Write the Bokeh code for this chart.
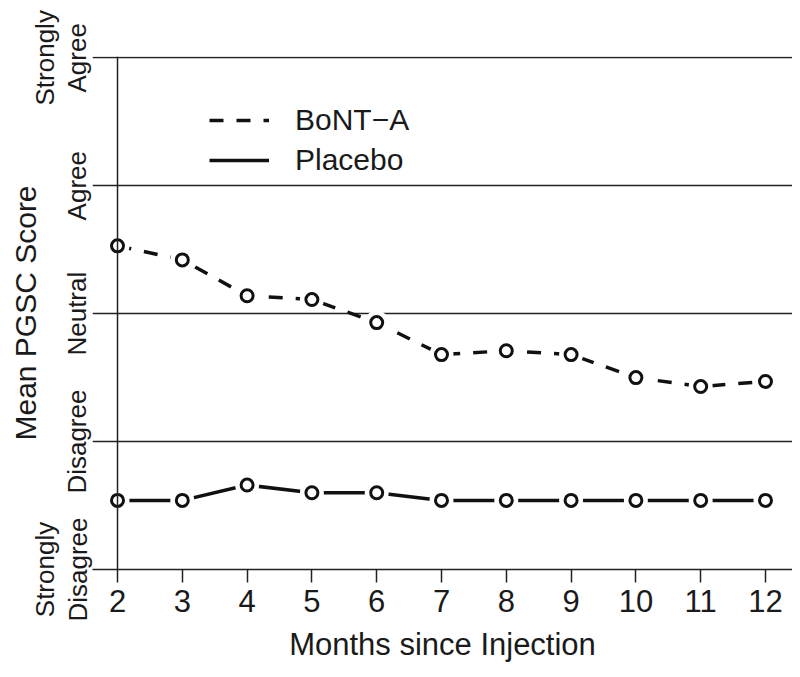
import math
from bokeh.plotting import figure
from bokeh.models import Range1d, FixedTicker, Span, Legend, LegendItem
from bokeh.embed import file_html
from bokeh.resources import INLINE

months = [2, 3, 4, 5, 6, 7, 8, 9, 10, 11, 12]
bont_a = [3.53, 3.42, 3.14, 3.11, 2.93, 2.68, 2.71, 2.68, 2.50, 2.43, 2.47]
placebo = [1.54, 1.54, 1.66, 1.60, 1.60, 1.54, 1.54, 1.54, 1.54, 1.54, 1.54]
score_ticks = [1, 2, 3, 4, 5]
score_labels = ["Strongly\nDisagree", "Disagree", "Neutral", "Agree", "Strongly\nAgree"]
x_ticks = [2, 3, 4, 5, 6, 7, 8, 9, 10, 11, 12]

FONT = "Liberation Sans"

p = figure(width=792, height=677, output_backend="svg", toolbar_location=None,
           x_range=Range1d(1.614, 12.417), y_range=Range1d(1.0, 5.01),
           min_border_left=92, min_border_right=0, min_border_top=56, min_border_bottom=108)
p.outline_line_color = None
p.background_fill_color = "white"
p.border_fill_color = "white"

# x axis
xa = p.xaxis[0]
xa.ticker = FixedTicker(ticks=x_ticks)
xa.axis_label = "Months since Injection"
xa.axis_label_text_font = FONT
xa.axis_label_text_font_size = "31px"
xa.axis_label_text_font_style = "normal"
xa.axis_label_text_color = "#1a1a1a"
xa.axis_label_standoff = 12
xa.major_label_text_font = FONT
xa.major_label_text_font_size = "31px"
xa.major_label_text_color = "#1a1a1a"
xa.major_label_standoff = 7
xa.major_tick_out = 13
xa.major_tick_in = 0
xa.minor_tick_out = 0
xa.minor_tick_in = 0
xa.axis_line_color = "#222222"
xa.axis_line_width = 1.5
xa.major_tick_line_color = "#222222"
xa.major_tick_line_width = 1.5

# y axis
ya = p.yaxis[0]
ya.ticker = FixedTicker(ticks=score_ticks)
ya.major_label_overrides = {t: l for t, l in zip(score_ticks, score_labels)}
ya.major_label_orientation = "parallel"
ya.major_label_text_font = FONT
ya.major_label_text_font_size = "26px"
ya.major_label_text_line_height = 1.1
ya.major_label_text_color = "#1a1a1a"
ya.major_label_standoff = 0
ya.major_tick_out = 0
ya.major_tick_in = 0
ya.minor_tick_out = 0
ya.minor_tick_in = 0
ya.axis_line_color = None
ya.axis_label = "Mean PGSC Score"
ya.axis_label_text_font = FONT
ya.axis_label_text_font_size = "30px"
ya.axis_label_text_font_style = "normal"
ya.axis_label_text_color = "#1a1a1a"
ya.axis_label_standoff = -15

p.xgrid.grid_line_color = None
p.ygrid.grid_line_color = "#222222"
p.ygrid.grid_line_width = 1.5
p.ygrid.grid_line_alpha = 1.0

p.add_layout(Span(location=2, dimension="height", line_color="#222222", line_width=1.5))

bl = p.line(months, bont_a, line_color="#111111", line_width=3.5, line_dash="14 13")
pl = p.line(months, placebo, line_color="#111111", line_width=3.5)
for ys in (bont_a, placebo):
    p.scatter(months, ys, size=24, fill_color="white", line_color=None)
    p.scatter(months, ys, size=12, fill_color="white", line_color="#111111", line_width=3)

legend = Legend(items=[LegendItem(label="BoNT\u2212A", renderers=[bl]),
                       LegendItem(label="Placebo", renderers=[pl])],
                location=(117, 392))
legend.padding = 0
legend.margin = 0
legend.border_line_color = None
legend.background_fill_alpha = 0
legend.glyph_width = 60
legend.glyph_height = 30
legend.label_height = 30
legend.spacing = 6
legend.label_standoff = 26
legend.label_text_font = FONT
legend.label_text_font_size = "30px"
legend.label_text_color = "#1a1a1a"
p.add_layout(legend, "center")

open("out.html", "w").write(file_html(p, INLINE))
